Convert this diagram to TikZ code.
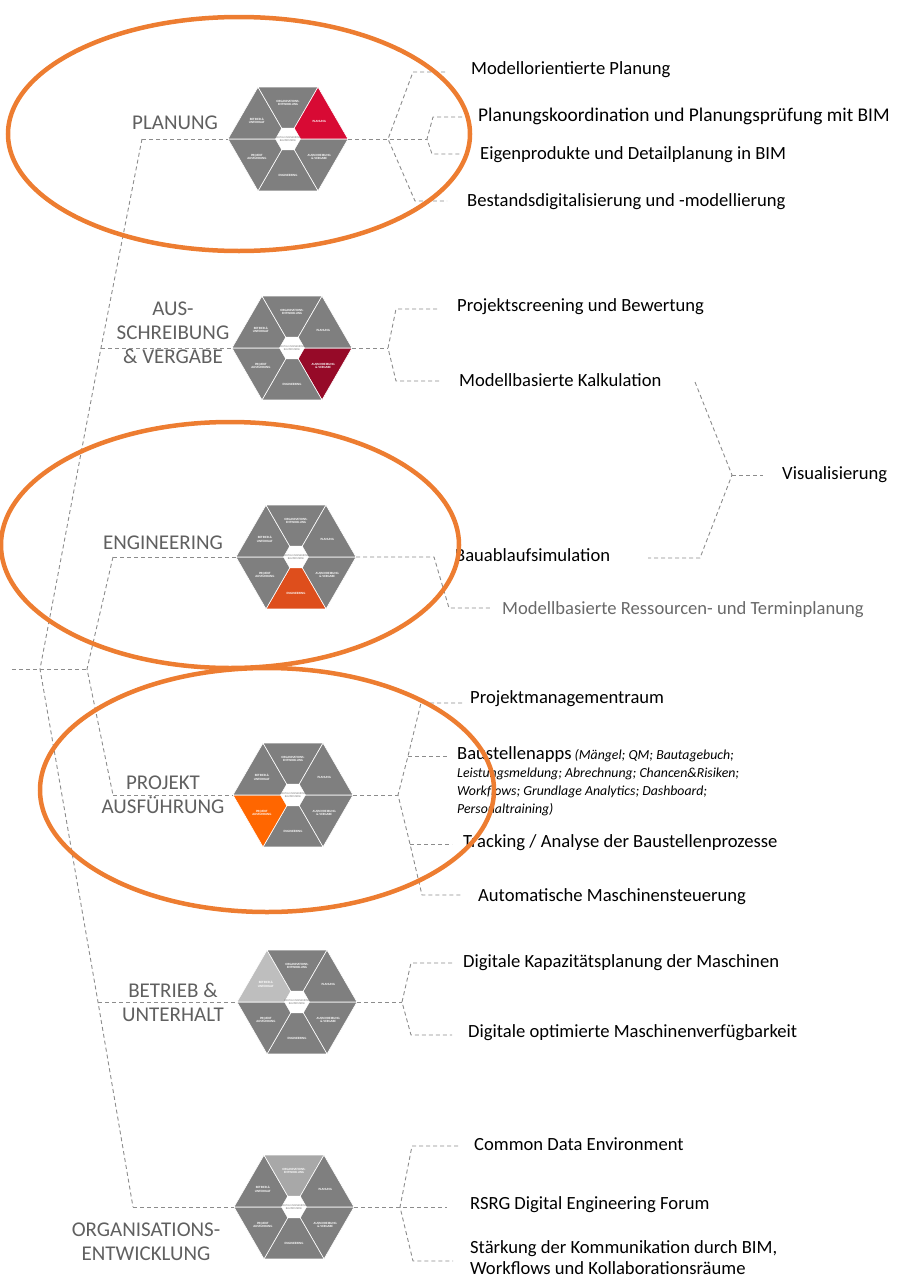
\documentclass[tikz,border=0pt]{standalone}
\usepackage{fontspec}
\setmainfont{Carlito}
\usetikzlibrary{positioning, calc}

\definecolor{segGray}{RGB}{127,127,127}
\definecolor{hlPlan}{RGB}{216,10,52}
\definecolor{hlAus}{RGB}{150,10,40}
\definecolor{hlEng}{RGB}{222,78,28}
\definecolor{hlPro}{RGB}{255,102,0}
\definecolor{hlBet}{RGB}{190,190,190}
\definecolor{hlOrg}{RGB}{168,168,168}
\definecolor{lineGray}{RGB}{140,140,140}
\definecolor{phaseGray}{RGB}{96,96,96}
\definecolor{noteGray}{RGB}{105,105,105}
\definecolor{ringOrange}{RGB}{237,125,49}

\begin{document}
\begin{tikzpicture}[
    x=1pt, y=-1pt,
    phase/.style={font=\fontsize{21}{24}\selectfont, text=phaseGray, align=center, inner sep=0pt},
    item/.style={anchor=west, font=\fontsize{18.6}{21}\selectfont, align=left, inner sep=0pt},
    seglabel/.style={font=\bfseries\fontsize{3.2}{3.8}\selectfont, text=white, align=center, inner sep=0pt},
    hubtext/.style={font=\fontsize{2.8}{3.3}\selectfont, text=segGray, align=center, inner sep=0pt},
    dashline/.style={draw=lineGray, line width=0.9pt, dash pattern=on 4pt off 3pt},
    ring/.style={draw=ringOrange, line width=4.5pt},
    pics/hexwheel/.style 2 args={code={
        \foreach \ang/\seglabel [count=\k] in {0/{AUSSCHREIBUNG\\\& VERGABE}, 60/ENGINEERING,
            120/{PROJEKT\\AUSFÜHRUNG}, 180/{BETRIEB \&\\UNTERHALT}, 240/{ORGANISATIONS-\\ENTWICKLUNG}, 300/PLANUNG}{
            \ifnum\k=#1\relax \def\segcol{#2}\else \def\segcol{segGray}\fi
            \filldraw[fill=\segcol, draw=white, line width=0.6pt] (0,0) -- (\ang:60) -- ({\ang+60}:60) -- cycle;
            \node[seglabel] (-s\k) at ({\ang+30}:36) {\seglabel};
        }
        \filldraw[fill=white, draw=white] (0:12.5) -- (60:12.5) -- (120:12.5) -- (180:12.5) -- (240:12.5) -- (300:12.5) -- cycle;
        \node[hubtext] (-hub) at (0,0) {DIGITAL ENGINEERING\\BAUPROZESSE};
        \coordinate (-l) at (180:60);
        \coordinate (-r) at (0:60);
    }},
]
\useasboundingbox (0,0) rectangle (897,1282);

% ── Hexagons ─────────────────────────────────────────────────────────────────
\pic (hPlan) at (288,139)  {hexwheel={6}{hlPlan}};
\pic (hAus)  at (292,348)  {hexwheel={1}{hlAus}};
\pic (hEng)  at (296,557)  {hexwheel={2}{hlEng}};
\pic (hPro)  at (293,795)  {hexwheel={3}{hlPro}};
\pic (hBet)  at (297,1002) {hexwheel={4}{hlBet}};
\pic (hOrg)  at (294,1207) {hexwheel={5}{hlOrg}};

% ── Phase labels ─────────────────────────────────────────────────────────────
\node[phase] (pPlan) at (175,123)  {PLANUNG};
\node[phase] (pAus)  at (173,333)  {AUS-\\SCHREIBUNG\\\& VERGABE};
\node[phase] (pEng)  at (163,543)  {ENGINEERING};
\node[phase] (pPro)  at (163,795)  {PROJEKT\\AUSFÜHRUNG};
\node[phase] (pBet)  at (173,1002) {BETRIEB \&\\UNTERHALT};
\node[phase] (pOrg)  at (146,1242) {ORGANISATIONS-\\ENTWICKLUNG};

% ── Left tree ────────────────────────────────────────────────────────────────
\coordinate (root)  at (12,669);
\coordinate (jL)    at (40,669);
\coordinate (jR)    at (87,669);
\coordinate (ePlan) at (142,139);
\coordinate (eAus)  at (101,348);
\coordinate (eEng)  at (113,557);
\coordinate (ePro)  at (113,795);
\coordinate (eBet)  at (98,1002);
\coordinate (eOrg)  at (133,1207);

\draw[dashline] (root) -- (jR);
\draw[dashline] (ePlan) -- (eAus) -- (jL) -- (eBet) -- (eOrg);
\draw[dashline] (eEng) -- (jR) -- (ePro);
\draw[dashline] (ePlan) -- (hPlan-l);
\draw[dashline] (eAus) -- (hAus-l);
\draw[dashline] (eEng) -- (hEng-l);
\draw[dashline] (ePro) -- (hPro-l);
\draw[dashline] (eBet) -- (hBet-l);
\draw[dashline] (eOrg) -- (hOrg-l);

% ── Planung ──────────────────────────────────────────────────────────────────
\coordinate (jPlan)   at (388,139);
\coordinate (jPlanB)  at (427,139);
\coordinate (aModell) at (413,72);  \coordinate (bModell) at (445,72);
\coordinate (aKoord)  at (433,117); \coordinate (bKoord)  at (462,117);
\coordinate (aEigen)  at (432,154); \coordinate (bEigen)  at (460,154);
\coordinate (aBest)   at (415,201); \coordinate (bBest)   at (447,201);

\node[item] (tModell) at (471,70)  {Modellorientierte Planung};
\node[item, font=\fontsize{19.4}{21}\selectfont] (tKoord) at (478,116) {Planungskoordination und Planungsprüfung mit BIM};
\node[item] (tEigen)  at (480,155) {Eigenprodukte und Detailplanung in BIM};
\node[item] (tBest)   at (467,202) {Bestandsdigitalisierung und -modellierung};

\draw[dashline] (hPlan-r) -- (jPlanB);
\draw[dashline] (bModell) -- (aModell) -- (jPlan) -- (aBest) -- (bBest);
\draw[dashline] (bKoord) -- (aKoord) -- (jPlanB) -- (aEigen) -- (bEigen);

% ── Ausschreibung & Vergabe ──────────────────────────────────────────────────
\coordinate (jAus)    at (388,348);
\coordinate (aScreen) at (396,309); \coordinate (bScreen) at (437,309);
\coordinate (aKalk)   at (396,381); \coordinate (bKalk)   at (439,381);

\node[item] (tScreen) at (457,307) {Projektscreening und Bewertung};
\node[item] (tKalk)   at (459,380) {Modellbasierte Kalkulation};

\draw[dashline] (hAus-r) -- (jAus);
\draw[dashline] (bScreen) -- (aScreen) -- (jAus) -- (aKalk) -- (bKalk);

% ── Visualisierung ───────────────────────────────────────────────────────────
\coordinate (aVisTop) at (695,382);
\coordinate (jVis)    at (732,475);
\coordinate (bVis)    at (763,475);
\coordinate (aVisBot) at (700,558);
\coordinate (bVisBot) at (648,558);

\node[item] (tVis) at (782,475) {Visualisierung};

\draw[dashline] (aVisTop) -- (jVis) -- (aVisBot) -- (bVisBot);
\draw[dashline] (jVis) -- (bVis);

% ── Engineering ──────────────────────────────────────────────────────────────
\coordinate (jEng)  at (434,557);
\coordinate (aRess) at (449,608); \coordinate (bRess) at (492,608);

\node[item] (tBauab) at (455,555) {Bauablaufsimulation};
\node[item, text=noteGray] (tRess) at (502,610) {Modellbasierte Ressourcen- und Terminplanung};

\draw[dashline] (hEng-r) -- (jEng) -- (aRess) -- (bRess);

% ── Projektausführung ────────────────────────────────────────────────────────
\coordinate (jPro)   at (398,795);
\coordinate (aPMR)   at (421,703); \coordinate (bPMR)   at (462,703);
\coordinate (aApps)  at (408,756); \coordinate (bApps)  at (447,756);
\coordinate (aTrack) at (410,844); \coordinate (bTrack) at (452,844);
\coordinate (aAuto)  at (422,895); \coordinate (bAuto)  at (463,895);

\node[item] (tPMR) at (470,699) {Projektmanagementraum};
\node[item, anchor=north west, font=\fontsize{13.8}{18}\selectfont\itshape] (tApps) at (457,746)
    {{\fontsize{18.6}{18}\selectfont\upshape Baustellenapps} (Mängel; QM; Bautagebuch;\\
     Leistungsmeldung; Abrechnung; Chancen\&Risiken;\\
     Workflows; Grundlage Analytics; Dashboard;\\
     Personaltraining)};
\node[item] (tTrack) at (463,843) {Tracking / Analyse der Baustellenprozesse};
\node[item] (tAuto)  at (478,897) {Automatische Maschinensteuerung};

\draw[dashline] (hPro-r) -- (jPro);
\draw[dashline] (bPMR) -- (aPMR) -- (aApps) -- (jPro) -- (aTrack) -- (aAuto) -- (bAuto);
\draw[dashline] (aApps) -- (bApps);
\draw[dashline] (aTrack) -- (bTrack);

% ── Betrieb & Unterhalt ──────────────────────────────────────────────────────
\coordinate (jBet)  at (402,1002);
\coordinate (aKapa) at (411,963);  \coordinate (bKapa) at (452,963);
\coordinate (aVerf) at (411,1035); \coordinate (bVerf) at (452,1035);

\node[item] (tKapa) at (463,963)  {Digitale Kapazitätsplanung der Maschinen};
\node[item] (tVerf) at (468,1033) {Digitale optimierte Maschinenverfügbarkeit};

\draw[dashline] (hBet-r) -- (jBet);
\draw[dashline] (bKapa) -- (aKapa) -- (jBet) -- (aVerf) -- (bVerf);

% ── Organisationsentwicklung ─────────────────────────────────────────────────
\coordinate (jOrg)   at (400,1207);
\coordinate (aCDE)   at (412,1146); \coordinate (bCDE)  at (458,1146);
\coordinate (bForum) at (447,1207);
\coordinate (aKomm)  at (413,1261); \coordinate (bKomm) at (453,1261);

\node[item] (tCDE)   at (474,1144) {Common Data Environment};
\node[item] (tForum) at (470,1205) {RSRG Digital Engineering Forum};
\node[item] (tKomm)  at (470,1258) {Stärkung der Kommunikation durch BIM,\\Workflows und Kollaborationsräume};

\draw[dashline] (hOrg-r) -- (jOrg) -- (bForum);
\draw[dashline] (bCDE) -- (aCDE) -- (jOrg) -- (aKomm) -- (bKomm);

% ── Highlight rings ──────────────────────────────────────────────────────────
\draw[ring] (239,134) ellipse [x radius=231, y radius=117];
\draw[ring] (230,545) ellipse [x radius=229, y radius=123];
\draw[ring] (267,790) ellipse [x radius=227, y radius=122];

\end{tikzpicture}
\end{document}
